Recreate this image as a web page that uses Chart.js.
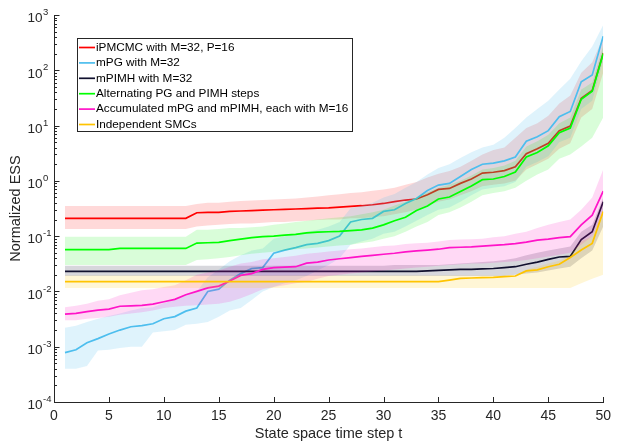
<!DOCTYPE html>
<html>
<head>
<meta charset="utf-8">
<script src="https://cdn.jsdelivr.net/npm/chart.js@4/dist/chart.umd.min.js"></script>
<style>
  html, body { margin: 0; padding: 0; background: #fff; }
  #wrap { width: 617px; height: 441px; position: relative; }
</style>
</head>
<body>
<div id="wrap"><canvas id="c"></canvas></div>
<script>
// time steps
const steps = [1, 2, 3, 4, 5, 6, 7, 8, 9, 10, 11, 12, 13, 14, 15, 16, 17, 18, 19, 20,
  21, 22, 23, 24, 25, 26, 27, 28, 29, 30, 31, 32, 33, 34, 35, 36, 37, 38, 39, 40,
  41, 42, 43, 44, 45, 46, 47, 48, 49, 50];

const xTicks = [0, 5, 10, 15, 20, 25, 30, 35, 40, 45, 50];
const yExps = [-4, -3, -2, -1, 0, 1, 2, 3];

const labels = [
  'iPMCMC with M=32, P=16',
  'mPG with M=32',
  'mPIMH with M=32',
  'Alternating PG and PIMH steps',
  'Accumulated mPG and mPIMH, each with M=16',
  'Independent SMCs'
];

// median lines
const ipmcmc = [0.21, 0.21, 0.21, 0.21, 0.21, 0.21, 0.21, 0.21, 0.21, 0.21,
  0.21, 0.21, 0.265, 0.27, 0.27, 0.28, 0.285, 0.29, 0.295, 0.30,
  0.305, 0.31, 0.315, 0.32, 0.325, 0.335, 0.345, 0.355, 0.37, 0.39,
  0.42, 0.45, 0.47, 0.56, 0.7, 0.73, 0.9, 1.08, 1.38, 1.43,
  1.53, 1.8, 3.1, 3.8, 4.8, 8.1, 9.8, 31, 43, 205];
const mpg = [0.00078, 0.00088, 0.00118, 0.0014, 0.0017, 0.002, 0.0023, 0.0024, 0.0026, 0.0032,
  0.0035, 0.0044, 0.005, 0.01, 0.011, 0.016, 0.021, 0.026, 0.027, 0.049,
  0.056, 0.062, 0.07, 0.074, 0.083, 0.1, 0.18, 0.2, 0.21, 0.28,
  0.3, 0.39, 0.48, 0.67, 0.84, 0.9, 1.2, 1.6, 2.0, 2.1,
  2.3, 2.7, 5.2, 6.3, 8.1, 14.5, 18, 62, 82, 415];
const mpimh = [0.023, 0.023, 0.023, 0.023, 0.023, 0.023, 0.023, 0.023, 0.023, 0.023,
  0.023, 0.023, 0.023, 0.023, 0.023, 0.023, 0.023, 0.023, 0.023, 0.023,
  0.023, 0.023, 0.023, 0.023, 0.023, 0.023, 0.023, 0.023, 0.023, 0.023,
  0.023, 0.023, 0.023, 0.0235, 0.024, 0.0245, 0.025, 0.025, 0.0255, 0.026,
  0.027, 0.028, 0.031, 0.034, 0.038, 0.042, 0.043, 0.087, 0.12, 0.42];
const alternating = [0.057, 0.057, 0.057, 0.057, 0.057, 0.06, 0.06, 0.06, 0.06, 0.06,
  0.06, 0.06, 0.075, 0.076, 0.077, 0.083, 0.088, 0.094, 0.098, 0.1,
  0.104, 0.108, 0.115, 0.118, 0.12, 0.122, 0.126, 0.13, 0.14, 0.16,
  0.19, 0.22, 0.29, 0.35, 0.47, 0.51, 0.64, 0.81, 1.05, 1.08,
  1.2, 1.45, 2.7, 3.25, 4.3, 7.4, 9, 30, 42, 200];
const accumulated = [0.0039, 0.004, 0.0043, 0.0046, 0.0048, 0.0054, 0.0055, 0.0056, 0.0059, 0.0065,
  0.0072, 0.0087, 0.01, 0.0116, 0.0125, 0.0154, 0.0195, 0.021, 0.025, 0.027,
  0.0275, 0.028, 0.0325, 0.034, 0.037, 0.039, 0.041, 0.043, 0.045, 0.047,
  0.049, 0.052, 0.054, 0.056, 0.058, 0.062, 0.063, 0.064, 0.066, 0.068,
  0.07, 0.073, 0.078, 0.085, 0.088, 0.094, 0.098, 0.16, 0.24, 0.65];
const independent = [0.015, 0.015, 0.015, 0.015, 0.015, 0.015, 0.015, 0.015, 0.015, 0.015,
  0.015, 0.015, 0.015, 0.015, 0.015, 0.015, 0.015, 0.015, 0.015, 0.015,
  0.015, 0.015, 0.015, 0.015, 0.015, 0.015, 0.015, 0.015, 0.015, 0.015,
  0.015, 0.015, 0.015, 0.015, 0.015, 0.016, 0.0172, 0.0175, 0.0178, 0.018,
  0.0185, 0.019, 0.0235, 0.0245, 0.028, 0.031, 0.041, 0.056, 0.074, 0.28];

// shaded bands (lower / upper)
const ipmcmcLo = [0.135, 0.135, 0.135, 0.135, 0.135, 0.135, 0.135, 0.135, 0.135, 0.135,
  0.135, 0.135, 0.15, 0.155, 0.16, 0.165, 0.17, 0.17, 0.175, 0.18,
  0.18, 0.185, 0.19, 0.195, 0.2, 0.2, 0.21, 0.21, 0.22, 0.23,
  0.25, 0.27, 0.3, 0.36, 0.42, 0.46, 0.55, 0.65, 0.8, 0.85,
  0.9, 1.0, 1.6, 2.0, 2.5, 3.8, 4.8, 14, 20, 90];
const ipmcmcHi = [0.35, 0.35, 0.35, 0.35, 0.35, 0.35, 0.35, 0.35, 0.35, 0.35,
  0.35, 0.35, 0.38, 0.4, 0.4, 0.42, 0.43, 0.44, 0.45, 0.46,
  0.47, 0.48, 0.5, 0.52, 0.55, 0.57, 0.6, 0.62, 0.66, 0.7,
  0.75, 0.85, 0.95, 1.15, 1.35, 1.5, 1.8, 2.3, 3.0, 3.6,
  4.0, 6.0, 9.0, 11, 15, 25, 35, 90, 140, 400];
const mpgLo = [0.0004, 0.0004, 0.00045, 0.00085, 0.00088, 0.00095, 0.001, 0.001, 0.0018, 0.0019,
  0.002, 0.0025, 0.0026, 0.0028, 0.0035, 0.0045, 0.005, 0.007, 0.01, 0.012,
  0.014, 0.016, 0.019, 0.024, 0.03, 0.04, 0.07, 0.08, 0.09, 0.11,
  0.12, 0.15, 0.19, 0.24, 0.3, 0.33, 0.42, 0.55, 0.7, 0.75,
  0.8, 0.95, 1.8, 2.2, 2.8, 5, 6, 20, 28, 150];
const mpgHi = [0.0022, 0.0024, 0.0028, 0.0032, 0.0036, 0.004, 0.0045, 0.005, 0.0052, 0.0062,
  0.007, 0.0085, 0.01, 0.018, 0.025, 0.035, 0.045, 0.055, 0.06, 0.09,
  0.1, 0.11, 0.12, 0.13, 0.15, 0.18, 0.32, 0.36, 0.4, 0.5,
  0.58, 0.75, 0.95, 1.3, 1.7, 2.0, 2.6, 3.3, 4.0, 4.5,
  6, 9, 14, 20, 28, 45, 70, 145, 270, 660];
const mpimhLo = [0.019, 0.019, 0.019, 0.019, 0.019, 0.019, 0.019, 0.019, 0.019, 0.019,
  0.019, 0.019, 0.019, 0.019, 0.019, 0.019, 0.019, 0.019, 0.019, 0.019,
  0.019, 0.019, 0.019, 0.019, 0.019, 0.019, 0.019, 0.019, 0.019, 0.019,
  0.019, 0.019, 0.019, 0.019, 0.019, 0.019, 0.019, 0.019, 0.019, 0.019,
  0.019, 0.02, 0.021, 0.022, 0.024, 0.026, 0.028, 0.04, 0.055, 0.15];
const mpimhHi = [0.029, 0.029, 0.029, 0.029, 0.029, 0.029, 0.029, 0.029, 0.029, 0.029,
  0.029, 0.029, 0.029, 0.029, 0.029, 0.029, 0.029, 0.029, 0.029, 0.029,
  0.029, 0.029, 0.029, 0.029, 0.029, 0.029, 0.029, 0.029, 0.029, 0.029,
  0.03, 0.03, 0.03, 0.03, 0.03, 0.031, 0.032, 0.033, 0.034, 0.035,
  0.037, 0.04, 0.045, 0.05, 0.055, 0.06, 0.065, 0.12, 0.16, 0.5];
const alternatingLo = [0.03, 0.03, 0.03, 0.03, 0.03, 0.03, 0.03, 0.03, 0.03, 0.03,
  0.03, 0.03, 0.037, 0.038, 0.04, 0.042, 0.045, 0.048, 0.05, 0.052,
  0.055, 0.058, 0.06, 0.062, 0.065, 0.068, 0.07, 0.075, 0.08, 0.09,
  0.1, 0.12, 0.15, 0.18, 0.24, 0.27, 0.33, 0.42, 0.55, 0.6,
  0.65, 0.75, 1.0, 1.3, 1.6, 2.5, 3.0, 4.2, 6, 14];
const alternatingHi = [0.098, 0.098, 0.098, 0.098, 0.098, 0.098, 0.098, 0.098, 0.098, 0.098,
  0.098, 0.098, 0.13, 0.13, 0.135, 0.14, 0.14, 0.145, 0.15, 0.16,
  0.17, 0.18, 0.19, 0.2, 0.21, 0.22, 0.23, 0.25, 0.27, 0.3,
  0.36, 0.42, 0.5, 0.62, 0.75, 0.85, 1.0, 1.25, 1.6, 1.7,
  1.9, 2.3, 4.2, 5.2, 6.8, 11, 14, 45, 60, 280];
const accumulatedLo = [0.003, 0.003, 0.0032, 0.0033, 0.0035, 0.0038, 0.004, 0.0042, 0.0045, 0.005,
  0.0053, 0.0055, 0.0056, 0.0058, 0.006, 0.0065, 0.0075, 0.009, 0.011, 0.012,
  0.013, 0.014, 0.015, 0.017, 0.019, 0.02, 0.021, 0.022, 0.023, 0.024,
  0.025, 0.026, 0.027, 0.028, 0.029, 0.03, 0.031, 0.032, 0.032, 0.033,
  0.034, 0.035, 0.037, 0.04, 0.043, 0.046, 0.05, 0.07, 0.1, 0.25];
const accumulatedHi = [0.0052, 0.0055, 0.006, 0.0068, 0.0072, 0.0085, 0.0095, 0.0105, 0.011, 0.012,
  0.013, 0.016, 0.02, 0.022, 0.024, 0.028, 0.032, 0.034, 0.038, 0.04,
  0.042, 0.044, 0.048, 0.05, 0.053, 0.055, 0.058, 0.06, 0.063, 0.066,
  0.068, 0.072, 0.074, 0.076, 0.08, 0.085, 0.087, 0.088, 0.09, 0.095,
  0.1, 0.11, 0.12, 0.14, 0.16, 0.18, 0.2, 0.3, 0.5, 1.6];
const independentLo = [0.0115, 0.0115, 0.0115, 0.0115, 0.0115, 0.0115, 0.0115, 0.0115, 0.0115, 0.0115,
  0.0115, 0.0115, 0.0115, 0.0115, 0.0115, 0.0115, 0.0115, 0.0115, 0.0115, 0.0115,
  0.0115, 0.0115, 0.0115, 0.0115, 0.0115, 0.0115, 0.0115, 0.0115, 0.0115, 0.0115,
  0.0115, 0.0115, 0.0115, 0.0115, 0.0115, 0.0115, 0.0115, 0.0115, 0.0115, 0.0115,
  0.0115, 0.0115, 0.0115, 0.0115, 0.0115, 0.0115, 0.0115, 0.014, 0.017, 0.02];
const independentHi = [0.0195, 0.0195, 0.0195, 0.0195, 0.0195, 0.0195, 0.0195, 0.0195, 0.0195, 0.0195,
  0.0195, 0.0195, 0.0195, 0.0195, 0.0195, 0.0195, 0.0195, 0.0195, 0.0195, 0.0195,
  0.0195, 0.0195, 0.0195, 0.0195, 0.0195, 0.0195, 0.0195, 0.0195, 0.0195, 0.0195,
  0.0195, 0.0195, 0.0195, 0.0195, 0.0195, 0.0195, 0.0195, 0.0195, 0.0195, 0.0195,
  0.0195, 0.0195, 0.025, 0.028, 0.032, 0.036, 0.045, 0.08, 0.1, 0.3];

const series = [
  { line: ipmcmc, lo: ipmcmcLo, hi: ipmcmcHi, color: '#ff0000', band: 'rgba(255,0,0,0.15)' },
  { line: mpg, lo: mpgLo, hi: mpgHi, color: '#4dbeee', band: 'rgba(77,190,238,0.18)' },
  { line: mpimh, lo: mpimhLo, hi: mpimhHi, color: '#10102e', band: 'rgba(20,20,50,0.17)' },
  { line: alternating, lo: alternatingLo, hi: alternatingHi, color: '#00ff00', band: 'rgba(0,240,0,0.15)' },
  { line: accumulated, lo: accumulatedLo, hi: accumulatedHi, color: '#ff14c8', band: 'rgba(255,20,190,0.16)' },
  { line: independent, lo: independentLo, hi: independentHi, color: '#ffc400', band: 'rgba(255,200,0,0.16)' }
];

const axisColor = '#262626';
const fontFam = '"Liberation Sans", Arial, Helvetica, sans-serif';

function toPoints(arr) {
  return arr.map((v, i) => ({ x: steps[i], y: v }));
}

function buildDatasets() {
  const ds = [];
  series.forEach((s, i) => {
    const base = 100 - 3 * i;
    const loIdx = ds.length;
    ds.push({
      label: '', isBand: true, data: toPoints(s.lo),
      borderWidth: 0, pointRadius: 0, fill: false, order: base
    });
    ds.push({
      label: '', isBand: true, data: toPoints(s.hi),
      borderWidth: 0, pointRadius: 0, backgroundColor: s.band,
      fill: { target: loIdx }, order: base
    });
    ds.push({
      label: labels[i], data: toPoints(s.line),
      borderColor: s.color, borderWidth: 1.7, pointRadius: 0,
      fill: false, tension: 0, order: base - 1
    });
  });
  return ds;
}

const matlabAxes = {
  id: 'matlabAxes',
  afterDraw(chart) {
    const { ctx, chartArea: a, scales } = chart;
    const x = scales.x, y = scales.y;
    ctx.save();
    ctx.strokeStyle = axisColor;
    ctx.lineWidth = 1;
    ctx.beginPath();
    xTicks.forEach(v => {
      const px = Math.round(x.getPixelForValue(v)) + 0.5;
      ctx.moveTo(px, a.bottom);
      ctx.lineTo(px, a.bottom - 5);
    });
    yExps.forEach(e => {
      for (let m = 1; m <= 9; m++) {
        const v = m * Math.pow(10, e);
        if (v > 1000) break;
        const py = Math.round(y.getPixelForValue(v)) + 0.5;
        ctx.moveTo(a.left, py);
        ctx.lineTo(a.left + (m === 1 ? 5.5 : 3), py);
      }
    });
    ctx.stroke();

    // y tick labels with superscript exponents
    ctx.fillStyle = axisColor;
    ctx.textBaseline = 'middle';
    yExps.forEach(e => {
      const py = y.getPixelForValue(Math.pow(10, e));
      ctx.font = '13.5px ' + fontFam;
      ctx.textAlign = 'right';
      ctx.fillText('10', 42.5, py + 3.5);
      ctx.font = '9.5px ' + fontFam;
      ctx.textAlign = 'left';
      ctx.fillText(e < 0 ? '-' + (-e) : String(e), 43, py - 2.5);
    });

    // legend box
    const lx = 77.5, ly = 38.5, lw = 275, lh = 93;
    ctx.fillStyle = '#fff';
    ctx.fillRect(lx, ly, lw, lh);
    ctx.strokeStyle = '#262626';
    ctx.strokeRect(lx, ly, lw, lh);
    ctx.font = '11.75px ' + fontFam;
    ctx.textAlign = 'left';
    ctx.textBaseline = 'middle';
    const lines = chart.data.datasets.filter(d => !d.isBand);
    lines.forEach((d, i) => {
      const ry = 47.5 + i * 15.4;
      ctx.strokeStyle = d.borderColor;
      ctx.lineWidth = 1.7;
      ctx.beginPath();
      ctx.moveTo(79, ry);
      ctx.lineTo(95, ry);
      ctx.stroke();
      ctx.fillStyle = '#000';
      ctx.fillText(d.label, 96, ry);
    });
    ctx.restore();
  }
};

function drawChart(elementId) {
  return new Chart(document.getElementById(elementId), {
    type: 'line',
    data: { datasets: buildDatasets() },
    options: {
      responsive: true,
      maintainAspectRatio: false,
      animation: false,
      layout: { padding: { top: 15, right: 9, left: 0, bottom: 0 } },
      plugins: { legend: { display: false }, tooltip: { enabled: false } },
      scales: {
        x: {
          type: 'linear', min: 0, max: 50,
          grid: { display: false, drawTicks: false },
          border: { color: axisColor, width: 1 },
          ticks: {
            stepSize: 5, padding: 6, color: axisColor,
            font: { family: fontFam, size: 14 }, maxRotation: 0
          },
          title: {
            display: true, text: 'State space time step t', color: axisColor,
            font: { family: fontFam, size: 14.5, lineHeight: 1 }, padding: { top: 0, bottom: 0 }
          },
          afterFit(s) { s.height = 39; }
        },
        y: {
          type: 'logarithmic', min: 1e-4, max: 1e3,
          grid: { display: false, drawTicks: false },
          border: { color: axisColor, width: 1 },
          ticks: { display: false },
          title: {
            display: true, text: 'Normalized ESS', color: axisColor,
            font: { family: fontFam, size: 14.5, lineHeight: 1 }, padding: { top: 9, bottom: 0 }
          },
          afterFit(s) { s.width = 54; }
        }
      }
    },
    plugins: [matlabAxes]
  });
}

drawChart('c');
</script>
</body>
</html>
